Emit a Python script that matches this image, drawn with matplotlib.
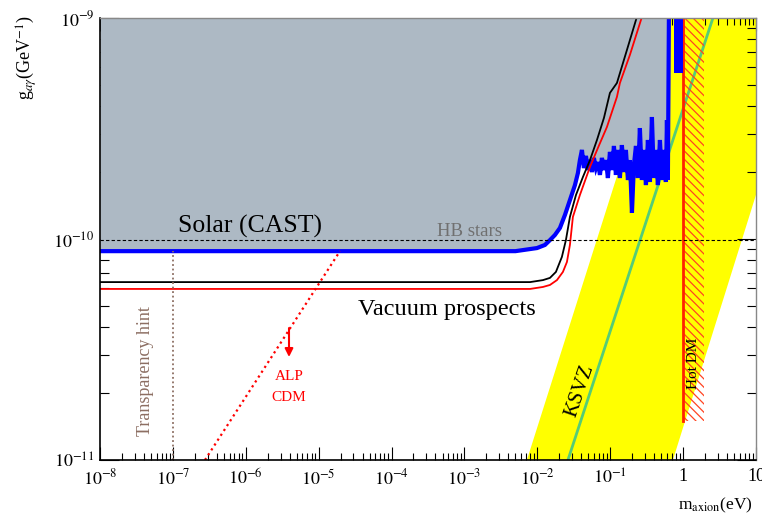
import numpy as np
import matplotlib
matplotlib.use('Agg')
import matplotlib.pyplot as plt
from matplotlib.ticker import FixedLocator, NullFormatter, LogLocator

plt.rcParams['font.family'] = ['Liberation Serif', 'DejaVu Serif']
plt.rcParams['mathtext.fontset'] = 'stix'
plt.rcParams['hatch.linewidth'] = 0.9

# ---------------- data (log10 values) ----------------
# CAST solar limit (blue line, grey exclusion above)
cast_lm = [-8.0, -2.30, -2.005, -1.896, -1.827, -1.759, -1.690, -1.621, -1.553, -1.484,
           -1.443, -1.416, -1.388, -1.361, -1.333, -1.306, -1.278, -1.251, -1.224, -1.196,
           -1.169, -1.141, -1.114, -1.086, -1.059, -1.032, -1.004, -0.977, -0.949, -0.922,
           -0.894, -0.867, -0.840, -0.812, -0.785, -0.757, -0.730, -0.702, -0.675, -0.647,
           -0.620, -0.593, -0.565, -0.538, -0.510, -0.483, -0.455, -0.428, -0.401, -0.373,
           -0.346, -0.318, -0.291, -0.263, -0.236, -0.222, -0.209, -0.195]
cast_lg = [-10.055, -10.055, -10.041, -10.027, -10.005, -9.982, -9.950, -9.891, -9.824, -9.756,
           -9.701, -9.643, -9.597, -9.679, -9.624, -9.688, -9.643, -9.697, -9.633, -9.679,
           -9.652, -9.710, -9.633, -9.688, -9.643, -9.724, -9.606, -9.688, -9.579, -9.710,
           -9.597, -9.724, -9.575, -9.697, -9.597, -9.733, -9.643, -9.882, -9.665, -9.579,
           -9.724, -9.498, -9.733, -9.597, -9.756, -9.552, -9.742, -9.448, -9.724, -9.597,
           -9.756, -9.552, -9.733, -9.597, -9.742, -9.462, -9.733, -9.0]
# CAST high-mass blue block
block_lm = [-0.126, -0.005]
block_lg = [-9.249, -9.0]

# Vacuum prospects (black) and red prospects
vac_lm = [-8.0, -2.10, -1.923, -1.827, -1.745, -1.663, -1.608, -1.553, -1.470, -1.374,
          -1.278, -1.182, -1.086, -1.004, -0.908, -0.771, -0.634]
vac_lg = [-10.195, -10.195, -10.186, -10.176, -10.149, -10.081, -10.005, -9.900, -9.801, -9.719,
          -9.643, -9.552, -9.452, -9.339, -9.294, -9.145, -8.995]
red_lm = [-8.0, -2.10, -1.923, -1.827, -1.731, -1.649, -1.594, -1.553, -1.512, -1.416,
          -1.278, -1.169, -1.045, -0.908, -0.867, -0.730, -0.565]
red_lg = [-10.226, -10.226, -10.217, -10.208, -10.186, -10.149, -10.104, -10.027, -9.900, -9.801,
          -9.674, -9.588, -9.493, -9.357, -9.294, -9.167, -8.995]

# Axion model band (yellow) and KSVZ line (green)
band_lm = [-2.143, -0.219, 1.0, 1.0, -0.14]
band_lg = [-11.0, -9.0, -9.0, -9.80, -11.0]
ksvz_lm = [-1.58, 0.409]
ksvz_lg = [-11.0, -9.0]

# HB stars limit
hb_g = 0.99e-10
# Transparency hint
transp_m = 1e-7
transp_lg = [-11.0, -10.055]
# ALP CDM line
alp_lm = [-6.56, -4.708]
alp_lg = [-11.0, -10.055]
# Hot DM
hot_m = [1.0, 1.93]
hot_g = [1.5e-11, 1e-9]

xtick_vals = [1e-8, 1e-7, 1e-6, 1e-5, 1e-4, 1e-3, 1e-2, 1e-1, 1, 10]
xtick_labels = ['$10^{-8}$', '$10^{-7}$', '$10^{-6}$', '$10^{-5}$', '$10^{-4}$',
                '$10^{-3}$', '$10^{-2}$', '$10^{-1}$', '1', '10']
ytick_vals = [1e-11, 1e-10, 1e-9]
ytick_labels = ['$10^{-11}$', '$10^{-10}$', '$10^{-9}$']

p = lambda a: np.power(10.0, np.asarray(a))

# ---------------- figure ----------------
fig = plt.figure(figsize=(7.62, 5.15), dpi=100)
ax = fig.add_axes([100/762, 55/515, 656/762, 442/515])
ax.set_xscale('log')
ax.set_yscale('log')
ax.set_xlim(1e-8, 10)
ax.set_ylim(1e-11, 1e-9)

grey = '#adb9c4'
# yellow band
ax.fill(p(band_lm), p(band_lg), color='#ffff00', lw=0, zorder=1)
ax.plot(p(ksvz_lm), p(ksvz_lg), color='#55cc77', lw=2, zorder=1.5)

# grey exclusion
cm, cg = p(cast_lm), p(cast_lg)
ax.fill_between(cm, cg, 1e-9, color=grey, lw=0, zorder=2)
ax.plot(cm, cg, color='#0000ff', lw=3.0, zorder=4, solid_joinstyle='miter')
ax.fill_between(p(block_lm), p(block_lg[0]), p(block_lg[1]), color='#0000ff', lw=0, zorder=4)

# hot DM
ax.fill_between(hot_m, hot_g[0], hot_g[1], facecolor='none', edgecolor='#ff4422',
                hatch='\\\\\\\\', lw=0, zorder=3)
ax.plot([hot_m[0], hot_m[0]], hot_g, color='#ff2200', lw=2, zorder=3.5)

# prospects
ax.plot(p(vac_lm), p(vac_lg), color='black', lw=1.3, zorder=5)
ax.plot(p(red_lm), p(red_lg), color='#ff0000', lw=1.3, zorder=5)

# HB stars
ax.axhline(hb_g, color='black', lw=0.8, ls=(0, (3, 2)), zorder=5)

# transparency hint
ax.plot([transp_m, transp_m], p(transp_lg), color='#8c6e62', lw=1.3, ls=(0, (1, 1.5)), zorder=5)
# ALP CDM
ax.plot(p(alp_lm), p(alp_lg), color='#ff0000', lw=1.6, ls=(0, (1, 1.6)), zorder=5)
ax.annotate('', xy=(10**-5.407, 10**-10.534), xytext=(10**-5.407, 10**-10.403),
            arrowprops=dict(arrowstyle='-|>', color='#ff0000', lw=1.5,
                            mutation_scale=12, shrinkA=0, shrinkB=0), zorder=6)

# texts
ax.text(10**-5.94, 10**-9.941, 'Solar (CAST)', fontsize=18.5, ha='center', va='center', zorder=6)
ax.text(10**-3.24, 10**-10.321, 'Vacuum prospects', fontsize=17.5, ha='center', va='center', zorder=6)
ax.text(10**-2.925, 10**-9.964, 'HB stars', fontsize=13.5, color='#707070', ha='center', va='center', zorder=6)
ax.text(10**-7.369, 10**-10.597, 'Transparency hint', fontsize=13, color='#8c6e62',
        rotation=90, ha='center', va='center', zorder=6)
ax.text(10**-5.407, 10**-10.620, 'ALP', fontsize=11, color='#ff0000', ha='center', va='center', zorder=6)
ax.text(10**-5.407, 10**-10.719, 'CDM', fontsize=11, color='#ff0000', ha='center', va='center', zorder=6)
ax.text(10**-1.416, 10**-10.688, 'KSVZ', fontsize=15, rotation=71, ha='center', va='center', zorder=6)
ax.text(10**0.148, 10**-10.561, 'Hot DM', fontsize=11, rotation=90, ha='center', va='center', zorder=6)

# axes styling
ax.xaxis.set_major_locator(FixedLocator(xtick_vals))
ax.set_xticklabels(xtick_labels)
ax.xaxis.set_minor_locator(LogLocator(base=10, subs=np.arange(2, 10), numticks=20))
ax.xaxis.set_minor_formatter(NullFormatter())
ax.yaxis.set_major_locator(FixedLocator(ytick_vals))
ax.set_yticklabels(ytick_labels)
ax.yaxis.set_minor_locator(LogLocator(base=10, subs=np.arange(2, 10), numticks=20))
ax.yaxis.set_minor_formatter(NullFormatter())

ax.tick_params(axis='x', which='major', direction='in', length=9.5, width=0.8,
               top=True, bottom=True, labelsize=13, pad=6)
ax.tick_params(axis='x', which='minor', direction='in', length=5, width=0.8, top=True, bottom=True)
ax.tick_params(axis='y', which='major', direction='in', length=14, width=0.8,
               left=True, right=True, labelsize=13, pad=4)
ax.tick_params(axis='y', which='minor', direction='in', length=6.5, width=0.8, left=True, right=True)
for s in ['left', 'bottom']:
    ax.spines[s].set_linewidth(1.2)
    ax.spines[s].set_color('black')
for s in ['top', 'right']:
    ax.spines[s].set_linewidth(1.0)
    ax.spines[s].set_color('#888888')
for s in ax.spines.values():
    s.set_zorder(10)

fig.text(27/762, 1 - 58/515, r'g$_{a\gamma}$(GeV$^{-1}$)', fontsize=13, rotation=90,
         ha='center', va='center')
fig.text(753/762, 1 - 505/515, r'm$_{\rm axion}$(eV)', fontsize=12.5, ha='right', va='center')

fig.savefig('out.png', dpi=100)
